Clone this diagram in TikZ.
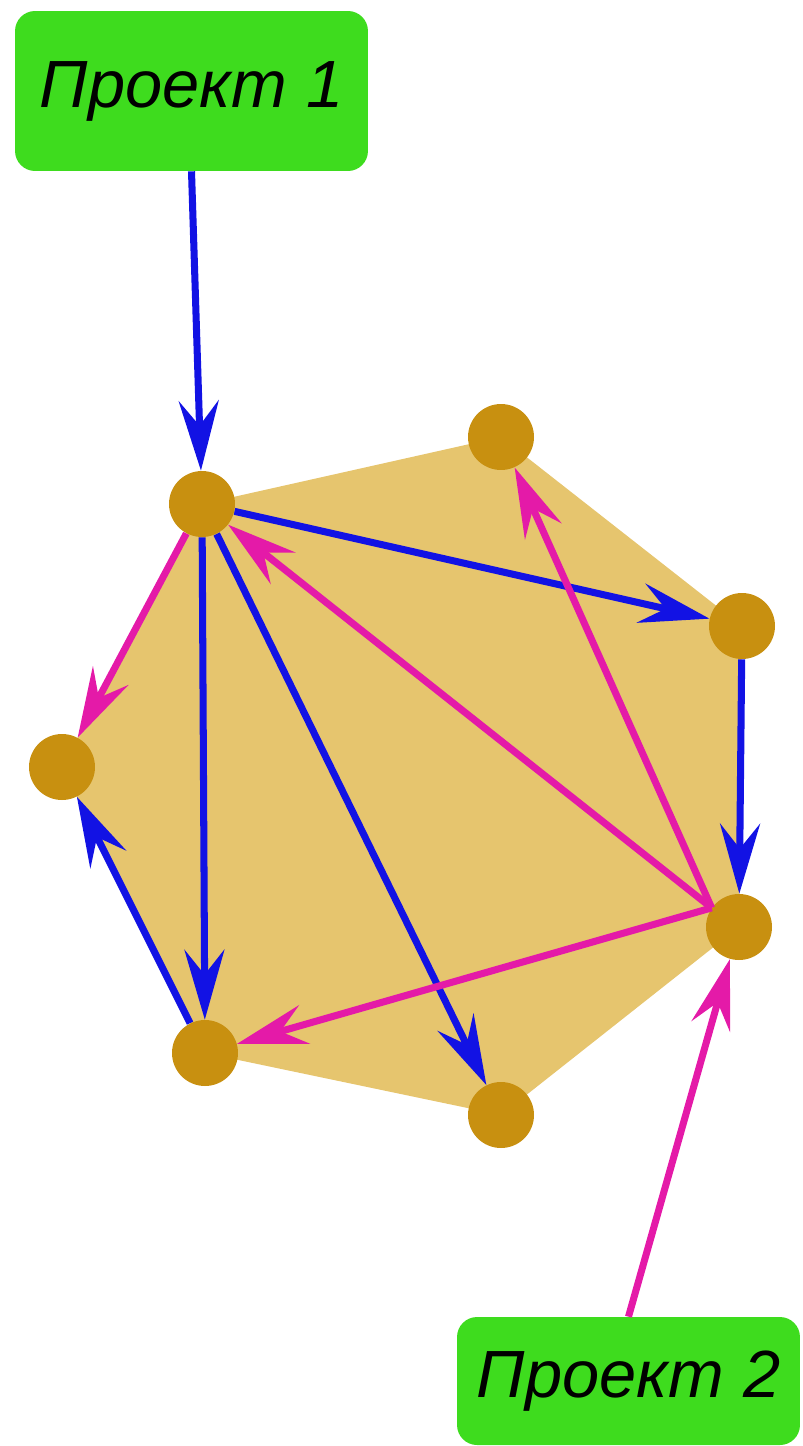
\documentclass[tikz,border=0pt]{standalone}
\usepackage{fontspec}
\setmainfont{Liberation Sans}
\usetikzlibrary{arrows.meta,backgrounds}
\definecolor{boxgreen}{RGB}{62,220,30}
\definecolor{dotgold}{RGB}{200,144,16}
\definecolor{sand}{RGB}{230,197,110}
\definecolor{arrblue}{RGB}{18,18,228}
\definecolor{arrpink}{RGB}{228,26,168}
\tikzset{
  proj/.style={fill=boxgreen, rounded corners=0.4cm, inner sep=0pt,
    font=\fontsize{38}{40}\selectfont\itshape},
  vtx/.style={circle, fill=dotgold, minimum size=1.32cm, inner sep=0pt},
  bl/.style={draw=arrblue, line width=4pt,
    -{Stealth[length=1.4cm,width=0.8cm,inset=0.5cm]}},
  pk/.style={draw=arrpink, line width=4pt,
    -{Stealth[length=1.4cm,width=0.8cm,inset=0.5cm]}}
}
\begin{document}
\begin{tikzpicture}[x=0.02cm,y=-0.02cm]
\useasboundingbox (0,0) rectangle (802,1446);
\node[proj, minimum width=7.06cm, minimum height=3.2cm] (p1) at (191.5,91) {Проект 1};
\node[proj, minimum width=6.86cm, minimum height=2.56cm] (p2) at (628.5,1381) {Проект 2};
\node[vtx] (a) at (202,504) {};
\node[vtx] (b) at (501,437) {};
\node[vtx] (c) at (742,626) {};
\node[vtx] (d) at (739,927) {};
\node[vtx] (e) at (501,1115) {};
\node[vtx] (f) at (205,1053) {};
\node[vtx] (g) at (62,767) {};
\begin{pgfonlayer}{background}
\fill[sand] (a.center) -- (b.center) -- (c.center) -- (d.center)
  -- (e.center) -- (f.center) -- (g.center) -- cycle;
\end{pgfonlayer}
\draw[bl] (p1.south) -- (a);
\draw[bl] (a) -- (c);
\draw[bl] (c) -- (d);
\draw[bl] (a) -- (f);
\draw[bl] (a) -- (e);
\draw[bl] (f) -- (g);
\draw[pk] (a) -- (g);
\draw[pk] (d.145) -- (a);
\draw[pk] (d.145) -- (b);
\draw[pk] (d.145) -- (f);
\draw[pk] (p2.north) -- (d);
\end{tikzpicture}
\end{document}
